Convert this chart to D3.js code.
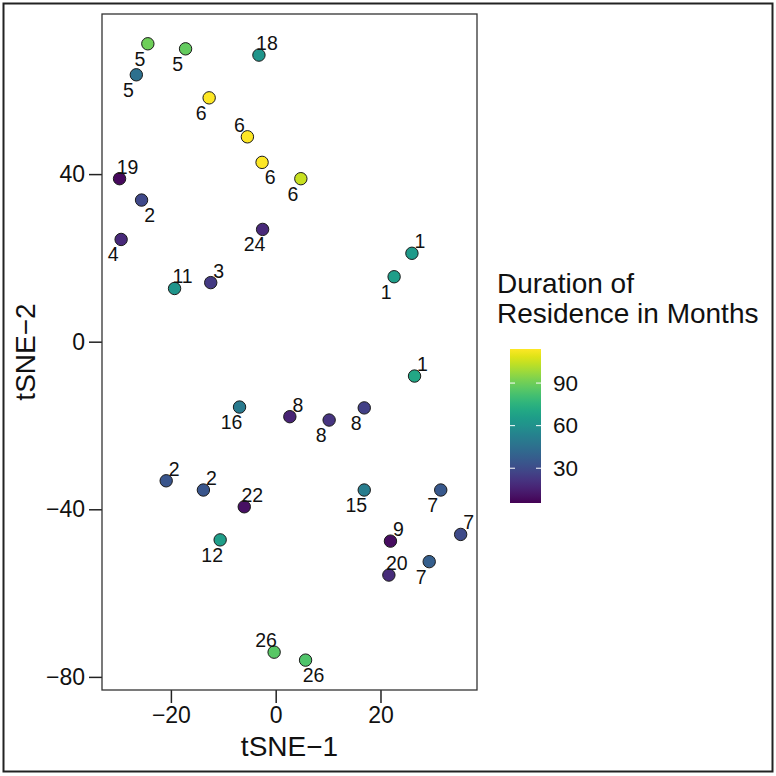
<!DOCTYPE html>
<html><head><meta charset="utf-8">
<script src="https://cdn.jsdelivr.net/npm/d3@7"></script>
<style>body{margin:0;background:#fff}</style>
</head><body>
<svg id="c" width="776" height="776"></svg>
<script>
// ---- data ----
const tsne1 = [-24.4,-17.2,-3.2,-26.6,-12.7,-5.4,-2.6,4.8,-29.8,-25.6,-29.5,-2.5,26.0,22.6,-19.3,-12.4,
               26.5,-6.9,2.7,10.2,16.9,-20.9,-13.8,-6.0,16.9,31.5,-10.6,21.9,35.3,29.3,21.6,-0.3,5.7];
const tsne2 = [71.1,69.9,68.4,63.7,58.2,48.9,42.8,38.9,38.9,33.8,24.4,26.8,21.1,15.5,12.7,14.1,
               -8.2,-15.6,-17.9,-18.7,-15.8,-33.2,-35.4,-39.4,-35.4,-35.4,-47.3,-47.6,-46.0,-52.5,-55.7,-74.1,-76.0];
const duration = [90,88,62,45,114,114,114,105,8,29,18,18,64,66,62,24,
                  70,50,16,22,26,34,34,10,51,35,66,9,30,38,19,86,84];
const labels = ["5","5","18","5","6","6","6","6","19","2","4","24","1","1","11","3",
                "1","16","8","8","8","2","2","22","15","7","12","9","7","7","20","26","26"];
const labelDir = ["sw","sw","ne","sw","sw","nw","se","sw","ne","se","sw","sw","ne","sw","ne","ne",
                  "ne","sw","ne","sw","sw","ne","ne","ne","sw","sw","sw","ne","ne","sw","ne","nw","se"];
const xTicks = [-20,0,20];
const yTicks = [-80,-40,0,40];
const colorTicks = [30,60,90];
const colorDomain = [5.5,114];
const xTitle = "tSNE\u22121", yTitle = "tSNE\u22122";
const legendTitle = ["Duration of","Residence in Months"];

// ---- drawing ----
const svg = d3.select("#c");
const font = "'Liberation Sans', Arial, Helvetica, sans-serif";
const P = {l:102, r:477, t:14, b:690};
svg.append("rect").attr("x",3.5).attr("y",3.5).attr("width",769).attr("height",768)
  .attr("fill","none").attr("stroke","#222").attr("stroke-width",2);

const x = d3.scaleLinear().domain([-33.15,38.42]).range([P.l,P.r]);
const y = d3.scaleLinear().domain([-83.13,78.21]).range([P.b,P.t]);
const color = d3.scaleSequential(d3.interpolateViridis).domain(colorDomain);

const fmt = d => d < 0 ? "\u2212" + Math.abs(d) : String(d);

const gx = svg.append("g").attr("transform",`translate(0,${P.b})`)
  .call(d3.axisBottom(x).tickValues(xTicks).tickFormat(fmt).tickSize(13).tickPadding(4));
const gy = svg.append("g").attr("transform",`translate(${P.l},0)`)
  .call(d3.axisLeft(y).tickValues(yTicks).tickFormat(fmt).tickSize(13).tickPadding(4));
[gx,gy].forEach(g=>{
  g.select(".domain").remove();
  g.selectAll("line").attr("stroke","#222").attr("stroke-width",1.5);
  g.selectAll("text").attr("font-family",font).attr("font-size",23).attr("fill","#111");
});

svg.append("rect").attr("x",P.l).attr("y",P.t).attr("width",P.r-P.l).attr("height",P.b-P.t)
  .attr("fill","none").attr("stroke","#333").attr("stroke-width",1.3);

const idx = d3.range(tsne1.length);
svg.append("g").selectAll("circle").data(idx).join("circle")
  .attr("cx",i=>x(tsne1[i])).attr("cy",i=>y(tsne2[i])).attr("r",6.2)
  .attr("fill",i=>color(duration[i])).attr("stroke","#1a1a1a").attr("stroke-width",1);

const off = {ne:[8,-12], nw:[-8,-12], se:[8,15], sw:[-8,15]};
svg.append("g").selectAll("text").data(idx).join("text")
  .attr("x",i=>x(tsne1[i])+off[labelDir[i]][0])
  .attr("y",i=>y(tsne2[i])+off[labelDir[i]][1])
  .attr("text-anchor","middle").attr("dominant-baseline","central")
  .attr("font-family",font).attr("font-size",19.5).attr("fill","#111")
  .text(i=>labels[i]);

svg.append("text").attr("x",(P.l+P.r)/2).attr("y",756).attr("text-anchor","middle")
  .attr("font-family",font).attr("font-size",28).attr("fill","#111").text(xTitle);
svg.append("text").attr("transform",`translate(35,${(P.t+P.b)/2}) rotate(-90)`).attr("text-anchor","middle")
  .attr("font-family",font).attr("font-size",28).attr("fill","#111").text(yTitle);

// legend
svg.append("g").selectAll("text").data(legendTitle).join("text")
  .attr("x",497).attr("y",(d,i)=>293+i*30)
  .attr("font-family",font).attr("font-size",28).attr("fill","#111").text(d=>d);

const cb = {x:510, w:31, top:349, bot:503};
const cy = d3.scaleLinear().domain(colorDomain).range([cb.bot,cb.top]);
const defs = svg.append("defs");
const grad = defs.append("linearGradient").attr("id","vg").attr("x1",0).attr("y1",1).attr("x2",0).attr("y2",0);
d3.range(0,1.0001,0.05).forEach(t=>grad.append("stop").attr("offset",t)
  .attr("stop-color",d3.interpolateViridis(t)));
svg.append("rect").attr("x",cb.x).attr("y",cb.top).attr("width",cb.w).attr("height",cb.bot-cb.top)
  .attr("fill","url(#vg)");
const tg = svg.append("g").selectAll("g").data(colorTicks).join("g");
tg.append("line").attr("x1",cb.x).attr("x2",cb.x+5).attr("y1",d=>cy(d)).attr("y2",d=>cy(d))
  .attr("stroke","#fff").attr("stroke-width",1);
tg.append("line").attr("x1",cb.x+cb.w-5).attr("x2",cb.x+cb.w).attr("y1",d=>cy(d)).attr("y2",d=>cy(d))
  .attr("stroke","#fff").attr("stroke-width",1);
tg.append("text").attr("x",553).attr("y",d=>cy(d)).attr("dominant-baseline","central")
  .attr("font-family",font).attr("font-size",22.5).attr("fill","#111").text(d=>d);
</script>
</body></html>
